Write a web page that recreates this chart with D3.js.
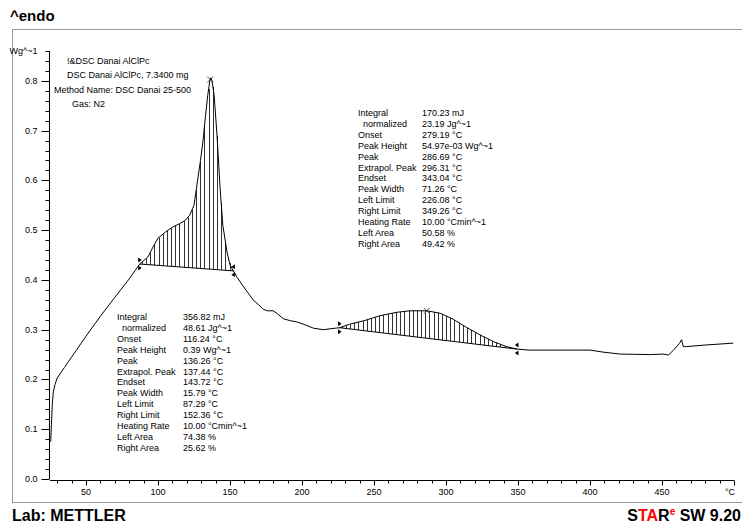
<!DOCTYPE html>
<html>
<head>
<meta charset="utf-8">
<script src="https://cdn.jsdelivr.net/npm/d3@7"></script>
<style>
body { margin: 0; background: #fff; }
svg text { font-family: "Liberation Sans", Arial, sans-serif; fill: #000; }
</style>
</head>
<body>
<div class="container"></div>
<script>
// DSC curve, temperature (°C) and heat flow (W/g)
let temps = [25.5, 26, 26.6, 27.3, 28.5, 30, 35, 40, 50, 60, 70, 80, 87.3,
    93, 96.5, 100, 105, 110, 115, 119, 122, 125, 127.5, 129.5, 131.3, 133, 134.5, 136, 136.6,
    137.5, 139, 141, 143, 145, 148, 150, 152.4, 155, 159, 163, 166, 170, 173, 176, 180,
    182.5, 187, 192, 196, 202, 208, 215, 220, 226.1, 233, 243, 254, 266, 275, 286.7,
    296, 305, 314, 324, 333, 342, 349.3, 358, 380, 400, 409, 421, 442, 451, 454.5,
    458, 462, 463.6, 464.8, 467, 479, 499.5]
let heatFlow = [0.075, 0.11, 0.15, 0.175, 0.19, 0.203, 0.224, 0.245, 0.287, 0.327, 0.365, 0.402, 0.432,
    0.446, 0.466, 0.484, 0.496, 0.506, 0.513, 0.52, 0.53, 0.55, 0.6, 0.64, 0.68, 0.73, 0.77, 0.8, 0.806,
    0.8, 0.77, 0.69, 0.59, 0.51, 0.455, 0.43, 0.418, 0.405, 0.388, 0.372, 0.36, 0.35, 0.341, 0.338, 0.338,
    0.333, 0.322, 0.318, 0.316, 0.31, 0.303, 0.3, 0.302, 0.304, 0.311, 0.318, 0.328, 0.335, 0.338, 0.338,
    0.333, 0.321, 0.305, 0.289, 0.276, 0.266, 0.261, 0.259, 0.259, 0.259, 0.255, 0.251, 0.25, 0.251, 0.249,
    0.259, 0.272, 0.28, 0.266, 0.266, 0.269, 0.273]

let xTicks = [50, 100, 150, 200, 250, 300, 350, 400, 450]
let yTicks = [0, 0.1, 0.2, 0.3, 0.4, 0.5, 0.6, 0.7, 0.8]

let peak1Limits = [87.29, 152.36]
let peak1Top = 136.26
let peak2Limits = [226.08, 349.26]
let peak2Top = 286.69

let resultLabels = ["Integral", "  normalized", "Onset", "Peak Height", "Peak", "Extrapol. Peak",
    "Endset", "Peak Width", "Left Limit", "Right Limit", "Heating Rate", "Left Area", "Right Area"]
let peak1Values = ["356.82 mJ", "48.61 Jg^~1", "116.24 °C", "0.39 Wg^~1", "136.26 °C", "137.44 °C",
    "143.72 °C", "15.79 °C", "87.29 °C", "152.36 °C", "10.00 °Cmin^~1", "74.38 %", "25.62 %"]
let peak2Values = ["170.23 mJ", "23.19 Jg^~1", "279.19 °C", "54.97e-03 Wg^~1", "286.69 °C", "296.31 °C",
    "343.04 °C", "71.26 °C", "226.08 °C", "349.26 °C", "10.00 °Cmin^~1", "50.58 %", "49.42 %"]

let sampleLines = ["!&DSC Danai AlClPc", "DSC Danai AlClPc, 7.3400 mg"]
let methodLines = ["Method Name: DSC Danai 25-500", "Gas: N2"]

drawChart()

function drawChart(){

    const width = 742
    const height = 525

    const x = d3.scaleLinear().domain([25, 500]).range([50, 734])
    const y = d3.scaleLinear().domain([0, 0.86]).range([479, 51])

    const svg = d3.select(".container").append("svg")
        .attr("width", width)
        .attr("height", height)

    // frame
    svg.append("path")
        .attr("d", "M12.5,503 V29.5 H742")
        .attr("fill", "none")
        .attr("stroke", "#999")
    svg.append("line")
        .attr("x1", 12).attr("x2", 742).attr("y1", 502.5).attr("y2", 502.5)
        .attr("stroke", "#999")

    svg.append("text")
        .attr("x", 10).attr("y", 21)
        .style("font-size", "15px").style("font-weight", "bold")
        .text("^endo")

    svg.append("text")
        .attr("x", 12).attr("y", 521)
        .style("font-size", "16px").style("font-weight", "bold")
        .text("Lab: METTLER")

    const star = svg.append("text")
        .attr("x", 741).attr("y", 521)
        .attr("text-anchor", "end")
        .style("font-size", "16px").style("font-weight", "bold")
    star.append("tspan").text("S")
    star.append("tspan").style("fill", "#f00").text("TA")
    star.append("tspan").text("R")
    star.append("tspan").style("fill", "#f00").style("font-size", "10px").attr("dy", -6).text("e")
    star.append("tspan").attr("dy", 6).text(" SW 9.20")

    // axes
    const xAxis = svg.append("g")
        .attr("transform", "translate(0,480.5)")
    xAxis.append("line")
        .attr("x1", x(25)).attr("x2", x(500))
        .attr("stroke", "#000")
    xAxis.selectAll(".minor")
        .data(d3.range(30, 501, 10))
        .enter()
        .append("line")
        .attr("x1", d => Math.round(x(d)) + 0.5).attr("x2", d => Math.round(x(d)) + 0.5)
        .attr("y1", 0).attr("y2", d => (d % 50 == 0 ? 5 : 3))
        .attr("stroke", "#000")
    xAxis.selectAll(".lab")
        .data(xTicks)
        .enter()
        .append("text")
        .attr("x", d => x(d)).attr("y", 14)
        .attr("text-anchor", "middle")
        .style("font-size", "9px")
        .text(d => d)
    xAxis.append("text")
        .attr("x", x(500) - 4).attr("y", 14)
        .attr("text-anchor", "middle")
        .style("font-size", "9px")
        .text("°C")

    const yAxis = svg.append("g")
        .attr("transform", "translate(49.5,0)")
    yAxis.append("line")
        .attr("y1", y(0)).attr("y2", y(0.86))
        .attr("stroke", "#000")
    yAxis.selectAll(".minor")
        .data(d3.range(0, 44).map(i => i * 0.02))
        .enter()
        .append("line")
        .attr("y1", d => Math.round(y(d)) + 0.5).attr("y2", d => Math.round(y(d)) + 0.5)
        .attr("x1", (d, i) => (i % 5 == 0 ? -8 : -4)).attr("x2", 0)
        .attr("stroke", "#000")
    yAxis.selectAll(".lab")
        .data(yTicks)
        .enter()
        .append("text")
        .attr("x", -12).attr("y", d => y(d) + 3)
        .attr("text-anchor", "end")
        .style("font-size", "9px")
        .text(d => d3.format(".1f")(d))
    yAxis.append("text")
        .attr("x", -12).attr("y", y(0.86) + 3)
        .attr("text-anchor", "end")
        .style("font-size", "9px")
        .text("Wg^~1")

    // curve lookup
    const curveAt = t => {
        const i = d3.bisectLeft(temps, t)
        if (i <= 0) return heatFlow[0]
        if (i >= temps.length) return heatFlow[heatFlow.length - 1]
        const f = (t - temps[i - 1]) / (temps[i] - temps[i - 1])
        return heatFlow[i - 1] + f * (heatFlow[i] - heatFlow[i - 1])
    }

    function drawPeak(limits, top){
        const a = [limits[0], curveAt(limits[0])]
        const b = [limits[1], curveAt(limits[1])]
        const base = t => a[1] + (t - a[0]) / (b[0] - a[0]) * (b[1] - a[1])

        svg.append("g").selectAll("line")
            .data(d3.range(limits[0] + 1.5, limits[1], 2.9))
            .enter()
            .append("line")
            .attr("x1", d => Math.round(x(d)) + 0.5).attr("x2", d => Math.round(x(d)) + 0.5)
            .attr("y1", d => y(base(d))).attr("y2", d => y(curveAt(d)))
            .attr("stroke", "#333")

        svg.append("line")
            .attr("x1", x(a[0])).attr("y1", y(a[1]))
            .attr("x2", x(b[0])).attr("y2", y(b[1]))
            .attr("stroke", "#000")

        // limit markers
        ;[[a, 1], [b, -1]].forEach(([p, dir]) => {
            const px = x(p[0]), py = y(p[1])
            ;[-4, 4].forEach(off => {
                svg.append("path")
                    .attr("d", `M${px - dir * 1.5},${py + off - 2.5} L${px + dir * 2},${py + off} L${px - dir * 1.5},${py + off + 2.5} Z`)
                    .attr("fill", "#000")
            })
        })

        // peak cross
        const cx = x(top), cy = y(curveAt(top))
        svg.append("path")
            .attr("d", `M${cx - 3},${cy - 3} L${cx + 3},${cy + 3} M${cx - 3},${cy + 3} L${cx + 3},${cy - 3}`)
            .attr("stroke", "#555")
            .attr("fill", "none")
    }

    drawPeak(peak1Limits, peak1Top)
    drawPeak(peak2Limits, peak2Top)

    const line = d3.line()
        .x((d, i) => x(temps[i]))
        .y(d => y(d))
    svg.append("path")
        .datum(heatFlow)
        .attr("d", line)
        .attr("fill", "none")
        .attr("stroke", "#000")
        .attr("stroke-width", 1)

    // header texts
    sampleLines.forEach((s, i) => {
        svg.append("text")
            .attr("x", 67).attr("y", 64 + i * 14)
            .style("font-size", "9px")
            .text(s)
    })
    svg.append("text")
        .attr("x", 54).attr("y", 93)
        .style("font-size", "9px")
        .text(methodLines[0])
    svg.append("text")
        .attr("x", 72).attr("y", 107)
        .style("font-size", "9px")
        .text(methodLines[1])

    function drawResults(x0, x1, y0, values){
        const g = svg.append("g")
        resultLabels.forEach((l, i) => {
            g.append("text")
                .attr("x", x0).attr("y", y0 + i * 10.9)
                .attr("xml:space", "preserve")
                .style("white-space", "pre")
                .style("font-size", "9px")
                .text(l)
            g.append("text")
                .attr("x", x1).attr("y", y0 + i * 10.9)
                .style("font-size", "9px")
                .text(values[i])
        })
    }

    drawResults(117, 183, 320, peak1Values)
    drawResults(358, 422, 116, peak2Values)
}
</script>
</body>
</html>
